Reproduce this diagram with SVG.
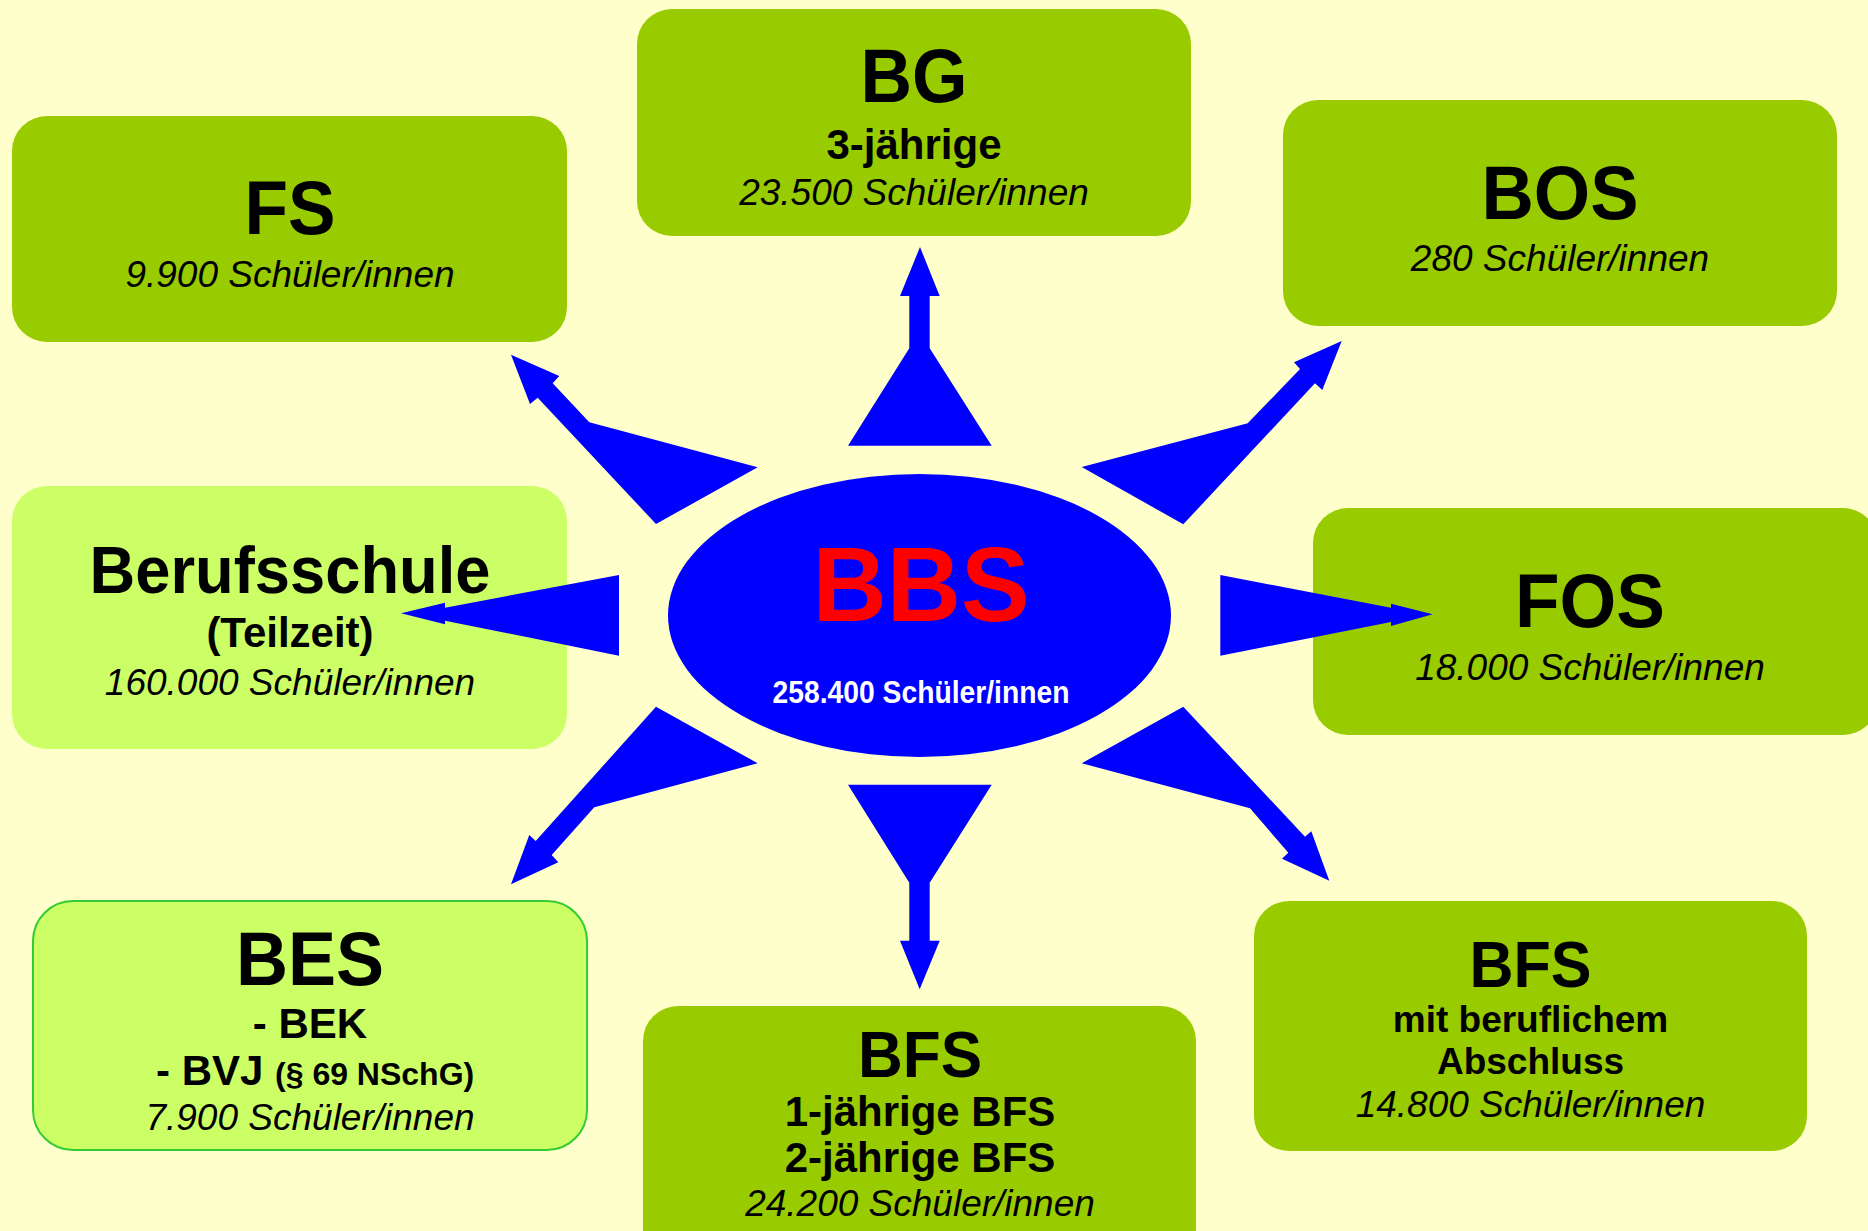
<svg xmlns="http://www.w3.org/2000/svg" width="1868" height="1231" viewBox="0 0 1868 1231">
<style>
text{font-family:"Liberation Sans",Arial,Helvetica,sans-serif;text-anchor:middle;fill:#000}
.t{font-weight:bold;font-size:76px}
.t2{font-weight:bold;font-size:64px}
.b{font-weight:bold;font-size:42px}
.b2{font-weight:bold;font-size:37px}
.i{font-style:italic;font-size:37px}
.dk{fill:#99cc00}
.lt{fill:#ccff66}
.arr{fill:#0000ff}
</style>
<rect width="1868" height="1231" fill="#ffffcc"/>
<g id="bbs">
<ellipse cx="919.5" cy="615.5" rx="251.5" ry="141.5" fill="#0000ff"/>
<text x="921" y="621" font-size="106" font-weight="bold" style="fill:#ff0000" textLength="217" lengthAdjust="spacingAndGlyphs">BBS</text>
<text x="921" y="703" font-size="31" font-weight="bold" style="fill:#ffffff" textLength="297" lengthAdjust="spacingAndGlyphs">258.400 Schüler/innen</text>
</g>
<g id="fs">
<rect class="dk" x="12" y="116" width="555" height="226" rx="35"/>
<text class="t" x="290" y="234" textLength="91" lengthAdjust="spacingAndGlyphs">FS</text>
<text class="i" x="290" y="287">9.900 Schüler/innen</text>
</g>
<g id="bg">
<rect class="dk" x="637" y="9" width="554" height="227" rx="35"/>
<text class="t" x="914" y="102" textLength="107" lengthAdjust="spacingAndGlyphs">BG</text>
<text class="b" x="914" y="159">3-jährige</text>
<text class="i" x="914" y="205">23.500 Schüler/innen</text>
</g>
<g id="bos">
<rect class="dk" x="1283" y="100" width="554" height="226" rx="35"/>
<text class="t" x="1560" y="218.5" textLength="157" lengthAdjust="spacingAndGlyphs">BOS</text>
<text class="i" x="1560" y="271">280 Schüler/innen</text>
</g>
<g id="berufsschule">
<rect class="lt" x="12" y="486" width="555" height="263" rx="35"/>
<text class="t" x="290" y="593" style="font-size:66px" textLength="401" lengthAdjust="spacingAndGlyphs">Berufsschule</text>
<text class="b" x="290" y="647">(Teilzeit)</text>
<text class="i" x="290" y="695">160.000 Schüler/innen</text>
</g>
<g id="fos">
<rect class="dk" x="1313" y="508" width="565" height="227" rx="35"/>
<text class="t" x="1590" y="626.5" textLength="150" lengthAdjust="spacingAndGlyphs">FOS</text>
<text class="i" x="1590" y="680">18.000 Schüler/innen</text>
</g>
<g id="bes">
<rect x="33" y="901" width="554" height="249" rx="40" fill="#ccff66" stroke="#33cc33" stroke-width="2"/>
<text class="t" x="310" y="984.5" textLength="148" lengthAdjust="spacingAndGlyphs">BES</text>
<text class="b" x="310" y="1038">- BEK</text>
<text class="b" x="156" y="1085" style="text-anchor:start">- BVJ <tspan font-size="32">(§ 69 NSchG)</tspan></text>
<text class="i" x="310" y="1130">7.900 Schüler/innen</text>
</g>
<g id="bfs-mid">
<rect class="dk" x="643" y="1006" width="553" height="260" rx="35"/>
<text class="t2" x="920" y="1077" textLength="124" lengthAdjust="spacingAndGlyphs">BFS</text>
<text class="b" x="920" y="1126">1-jährige BFS</text>
<text class="b" x="920" y="1171.5">2-jährige BFS</text>
<text class="i" x="920" y="1216">24.200 Schüler/innen</text>
</g>
<g id="bfs-right">
<rect class="dk" x="1254" y="901" width="553" height="250" rx="35"/>
<text class="t2" x="1530.5" y="986.5" textLength="122" lengthAdjust="spacingAndGlyphs">BFS</text>
<text class="b2" x="1530.5" y="1032">mit beruflichem</text>
<text class="b2" x="1530.5" y="1073.5">Abschluss</text>
<text class="i" x="1530.5" y="1117">14.800 Schüler/innen</text>
</g>
<g id="connectors">
<polygon class="arr" points="920,247 900,296 909.3,296 909.3,348.3 848,445.7 991.7,445.7 929.7,348.3 929.7,296 939.7,296"/>
<polygon class="arr" points="848,784.7 991.7,784.7 929.7,882.7 929.7,940.7 939.7,940.7 919.7,989.3 900,940.7 909.3,940.7 909.3,882.7"/>
<polygon class="arr" points="511,354.7 559.3,376 552.7,383.3 589.3,422.3 757.7,467.3 656,524 537.7,397.7 530,404"/>
<polygon class="arr" points="1341.7,341 1322.3,390 1315,383.3 1183.3,524.3 1081.7,467 1247.7,423.3 1300,369 1294,362.3"/>
<polygon class="arr" points="401,613.3 445,602.7 445,607.7 619,575 619,655.7 445,620.7 445,624.3"/>
<polygon class="arr" points="1220.3,575 1391,607.7 1391,603.7 1432.7,614.3 1391,626 1391,622 1220.3,655.7"/>
<polygon class="arr" points="656,706.7 757.7,763.3 594.3,807.3 551.7,855 558.3,862.3 511,884.3 529.3,835 535.7,841"/>
<polygon class="arr" points="1183.3,706.7 1081.7,763.3 1250,808.3 1288.3,852.7 1282,858.7 1329.3,880.7 1311.3,831.3 1305,836.7"/>
</g>
</svg>
